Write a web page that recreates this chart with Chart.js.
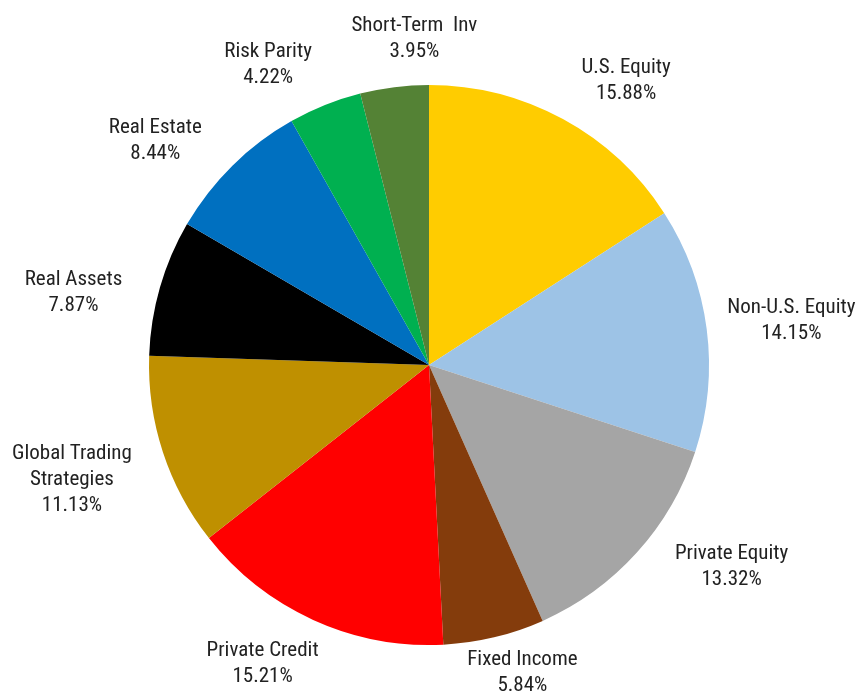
<!DOCTYPE html>
<html>
<head>
<meta charset="utf-8">
<script src="https://cdn.jsdelivr.net/npm/chart.js@4.4.1/dist/chart.umd.min.js"></script>
<style>
html,body{margin:0;padding:0;background:#fff;}
#wrap{width:857px;height:694px;position:relative;}
</style>
</head>
<body>
<div id="wrap"><canvas id="c" width="857" height="694"></canvas></div>
<script>
// ---- data ----
const categories = ["U.S. Equity","Non-U.S. Equity","Private Equity","Fixed Income","Private Credit","Global Trading Strategies","Real Assets","Real Estate","Risk Parity","Short-Term  Inv"];
const allocation = [15.88,14.15,13.32,5.84,15.21,11.13,7.87,8.44,4.22,3.95];
const sliceColors = ["#FFCC00","#9DC3E6","#A5A5A5","#843C0C","#FF0000","#BF9000","#000000","#0070C0","#00B050","#548235"];

// label layout tweaks (pixels, relative to a point 40px outside the slice's mid-angle)
const labelNudge = [[44,-3],[45,-3],[65,-13],[19,-3],[-34,7],[-53,15],[-48,16],[-49,4],[-42,-3],[25,-9]];

const FONT = '21px "Liberation Sans Narrow","Roboto Condensed","DejaVu Sans Condensed","Arial Narrow",sans-serif';

const outsideLabels = {
  id:'outsideLabels',
  afterDatasetsDraw(chart){
    const ctx = chart.ctx;
    const meta = chart.getDatasetMeta(0);
    ctx.save();
    ctx.font = FONT;
    ctx.fillStyle = '#222222';
    ctx.textAlign = 'center';
    ctx.textBaseline = 'middle';
    const lh = 26;
    meta.data.forEach((arc,i)=>{
      const p = arc.getProps(['x','y','startAngle','endAngle','outerRadius'],true);
      const mid = (p.startAngle+p.endAngle)/2;
      const dx = Math.cos(mid), dy = Math.sin(mid);
      let name = categories[i];
      let lines = [];
      if (ctx.measureText(name).width > 150) {
        const words = name.split(' ');
        let cur = '';
        words.forEach(w=>{
          const t = cur ? cur+' '+w : w;
          if (ctx.measureText(t).width > 130 && cur) { lines.push(cur); cur = w; } else cur = t;
        });
        if (cur) lines.push(cur);
      } else lines.push(name);
      lines.push(allocation[i].toFixed(2)+'%');
      const h = lines.length*lh;
      const cx = p.x + dx*(p.outerRadius+40) + labelNudge[i][0];
      const cy = p.y + dy*(p.outerRadius+40) + labelNudge[i][1];
      lines.forEach((l,k)=>{
        ctx.fillText(l, cx, cy - h/2 + lh/2 + k*lh);
      });
    });
    ctx.restore();
  }
};

new Chart(document.getElementById('c'),{
  type:'pie',
  data:{
    labels:categories,
    datasets:[{data:allocation, backgroundColor:sliceColors, borderWidth:0, hoverOffset:0}]
  },
  options:{
    responsive:false,
    animation:false,
    layout:{padding:{left:149,right:148,top:85,bottom:49}},
    plugins:{legend:{display:false}, tooltip:{enabled:false}}
  },
  plugins:[outsideLabels]
});
</script>
</body>
</html>
